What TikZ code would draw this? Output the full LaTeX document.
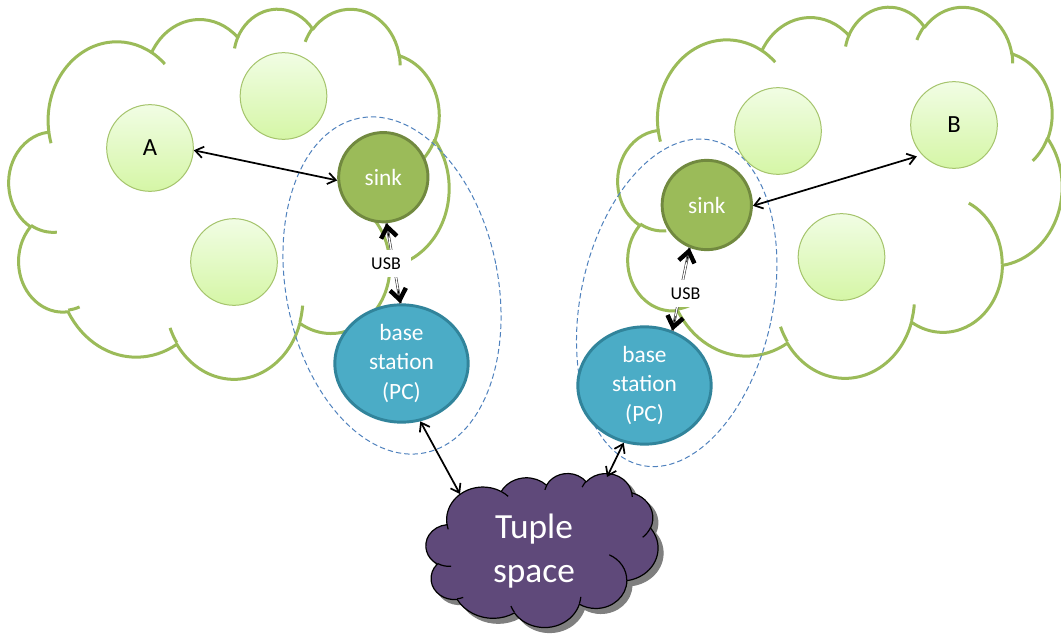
\documentclass[tikz,border=0pt]{standalone}
\usepackage{fontspec}
\setmainfont{Carlito}
\usetikzlibrary{arrows.meta,shapes.geometric,calc}

\definecolor{cloudgreen}{HTML}{9BBB59}
\definecolor{motetop}{HTML}{F1FDE4}
\definecolor{motebot}{HTML}{D5F6A6}
\definecolor{moteedge}{HTML}{A5C46C}
\definecolor{sinkfill}{HTML}{9BBB59}
\definecolor{sinkedge}{HTML}{71893F}
\definecolor{basefill}{HTML}{4BACC6}
\definecolor{baseedge}{HTML}{31849B}
\definecolor{ringblue}{HTML}{4F81BD}
\definecolor{tuplefill}{HTML}{5F497A}
\definecolor{tupleshadow}{HTML}{7F7F7F}

% ---- cloud outline built from elliptic arcs (path box 43.2 x 43.2) ----
\newcommand\cloudmove[2]{%
  \pgfmathsetmacro\cmx{\cloudX+(#1)/43.2*\cloudW}%
  \pgfmathsetmacro\cmy{\cloudY+(#2)/43.2*\cloudH}%
  \pgfpathmoveto{\pgfpointxy{\cmx}{\cmy}}}
\newcommand\cloudarc[4]{% radii, start angle, sweep (angles in the unscaled box)
  \pgfmathsetmacro\cra{(#1)/43.2*\cloudW}%
  \pgfmathsetmacro\crb{(#2)/43.2*\cloudH}%
  \pgfmathsetmacro\cta{atan2((#1)*sin(#3),(#2)*cos(#3))}%
  \pgfmathsetmacro\ctb{atan2((#1)*sin(#3+#4),(#2)*cos(#3+#4))}%
  \pgfmathsetmacro\ctd{\ctb-\cta}%
  \pgfmathsetmacro\ctd{\ctd-360*round((\ctd-(#4))/360)}%
  \pgfmathsetmacro\cte{\cta+\ctd}%
  \pgfpatharcaxes{\cta}{\cte}{\pgfpointxy{\cra}{0}}{\pgfpointxy{0}{\crb}}}
\newcommand\cloudoutline{%
  \cloudmove{3.900}{14.370}%
  \cloudarc{6.753}{9.190}{-190.4875}{123.7805}%
  \cloudarc{5.333}{7.267}{-144.1024}{89.9452}%
  \cloudarc{4.365}{5.945}{-145.8079}{99.7230}%
  \cloudarc{4.857}{6.595}{-130.9861}{117.2417}%
  \cloudarc{5.333}{7.273}{-78.7089}{109.0269}%
  \cloudarc{6.775}{9.220}{-46.2673}{130.2690}%
  \cloudarc{5.785}{7.867}{0.6250}{114.0333}%
  \cloudarc{6.752}{9.215}{22.4516}{115.1726}%
  \cloudarc{7.720}{10.543}{66.2426}{75.7110}%
  \cloudarc{4.360}{5.918}{-274.9421}{146.7356}%
  \cloudarc{4.345}{5.945}{-246.8285}{152.5189}%
  \pgfpathclose}
\newcommand\cloudhooks{%
  \cloudmove{4.693}{26.177}\cloudarc{4.345}{5.945}{86.7420}{26.4295}%
  \cloudmove{6.928}{34.899}\cloudarc{4.360}{5.918}{73.6105}{11.4475}%
  \cloudmove{16.478}{39.090}\cloudarc{6.752}{9.215}{137.6242}{14.0811}%
  \cloudmove{28.827}{34.751}\cloudarc{6.752}{9.215}{6.4533}{15.9984}%
  \cloudmove{34.129}{22.954}\cloudarc{5.785}{7.867}{-70.2924}{70.9174}%
  \cloudmove{41.798}{15.354}\cloudarc{5.333}{7.273}{30.3180}{27.7515}%
  \cloudmove{38.324}{5.426}\cloudarc{4.857}{6.595}{-13.7443}{14.8589}%
  \cloudmove{29.078}{3.952}\cloudarc{4.857}{6.595}{-149.1815}{18.1954}%
  \cloudmove{22.141}{4.720}\cloudarc{4.365}{5.945}{-163.4943}{17.6864}%
  \cloudmove{14.000}{5.192}\cloudarc{6.753}{9.190}{-66.7070}{12.3194}%
  \cloudmove{4.127}{15.789}\cloudarc{6.753}{9.190}{157.6544}{11.8582}}
% #1 x, #2 y, #3 width, #4 height, #5 fill, #6 stroke, #7 line width, #8 inner arcs (1/0)
\newcommand\cloudshape[8]{%
  \begin{pgfscope}
    \def\cloudX{#1}\def\cloudY{#2}\def\cloudW{#3}\def\cloudH{#4}%
    \pgfsetfillcolor{#5}\pgfsetstrokecolor{#6}\pgfsetlinewidth{#7}\pgfsetroundjoin
    \cloudoutline\pgfusepath{fill,draw}%
    \ifnum#8=1 \cloudhooks\pgfusepath{draw}\fi
  \end{pgfscope}}

\tikzset{
  mote/.style={circle, draw=moteedge, line width=0.75pt, top color=motetop,
    bottom color=motebot, minimum size=65pt, inner sep=0pt,
    font=\fontsize{18.5}{20}\selectfont},
  sinknode/.style={circle, fill=sinkfill, draw=sinkedge, line width=2.2pt,
    minimum size=67pt, inner sep=0pt, text=white, font=\fontsize{17.5}{20}\selectfont},
  basenode/.style={ellipse, fill=basefill, draw=baseedge, line width=2.2pt,
    minimum width=100pt, minimum height=88pt, inner sep=0pt, text=white,
    align=center, font=\fontsize{17.5}{22}\selectfont},
  ring/.style={draw=ringblue, line width=0.75pt, dash pattern=on 4pt off 2.3pt},
  link/.style={line width=1.3pt,
    arrows={Straight Barb[length=6pt,width=8.5pt]-Straight Barb[length=6pt,width=8.5pt]}},
  usbshaft/.style={draw=black!80, line width=0.45pt, double=white, double distance=1pt},
  usbtip/.style={line width=0.6pt,
    arrows={-Straight Barb[length=8pt,width=12pt,line width=3.3pt]}},
  usblabel/.style={fill=white, inner xsep=8pt, inner ysep=6pt, font=\fontsize{13.5}{15}\selectfont},
  tupletext/.style={text=white, align=center, font=\fontsize{26.5}{33}\selectfont}
}

\begin{document}
\begin{tikzpicture}[x=0.75pt, y=-0.75pt]
\useasboundingbox (0,0) rectangle (1061,639);

% sensor network clouds
\cloudshape{9}{8}{440}{370}{white}{cloudgreen}{2.25pt}{1}
\cloudshape{618}{6}{444}{371}{white}{cloudgreen}{2.25pt}{1}

% gateway groupings
\begin{scope}[shift={(392,285.5)}, rotate=11]
  \draw[ring] (0,0) ellipse [x radius=106, y radius=170.5];
\end{scope}
\begin{scope}[shift={(676.7,302.8)}, rotate=-12.2]
  \draw[ring] (0,0) ellipse [x radius=96, y radius=166.3];
\end{scope}

% tuple space cloud with its shadow
\cloudshape{431}{478}{232}{154}{tupleshadow}{tupleshadow}{0.8pt}{0}
\cloudshape{426}{473}{232}{154}{tuplefill}{black}{0.9pt}{1}
\node[tupletext] (tuple) at (534,551) {Tuple\\space};
\coordinate (tsL) at (460,494);
\coordinate (tsR) at (607,477);

% motes
\node[mote] (A) at (150,148) {A};
\node[mote] (m2) at (283.5,96) {};
\node[mote] (m3) at (234,262) {};
\node[mote] (m4) at (778,131) {};
\node[mote] (B) at (954,125) {B};
\node[mote] (m6) at (841.5,257) {};

% sinks and base stations
\node[sinknode] (sinkL) at (383.3,177.2) {sink};
\node[sinknode] (sinkR) at (706.8,205) {sink};
\node[basenode] (baseL) at (401.5,363.5) {base\\station\\(PC)};
\node[basenode] (baseR) at (644.5,385.5) {base\\station\\(PC)};

% radio and network links
\draw[link] (A.-3) -- (sinkL.184);
\draw[link, shorten >=4pt] (sinkR.-1) -- (B.223);
\draw[link] (baseL.-72) -- (tsL);
\draw[link] (baseR.250) -- (tsR);

% USB cables
\draw[usbshaft] (sinkL.274) -- (baseL.91);
\draw[usbtip] ($(sinkL.274)!11pt!(baseL.91)$) -- (sinkL.274);
\draw[usbtip] ($(baseL.91)!11pt!(sinkL.274)$) -- (baseL.91);
\node[usblabel] (usbL) at (386,263.5) {USB};

\draw[usbshaft] (sinkR.248) -- (baseR.63);
\draw[usbtip] ($(sinkR.248)!11pt!(baseR.63)$) -- (sinkR.248);
\draw[usbtip] ($(baseR.63)!11pt!(sinkR.248)$) -- (baseR.63);
\node[usblabel] (usbR) at (685.5,293.5) {USB};
\end{tikzpicture}
\end{document}
